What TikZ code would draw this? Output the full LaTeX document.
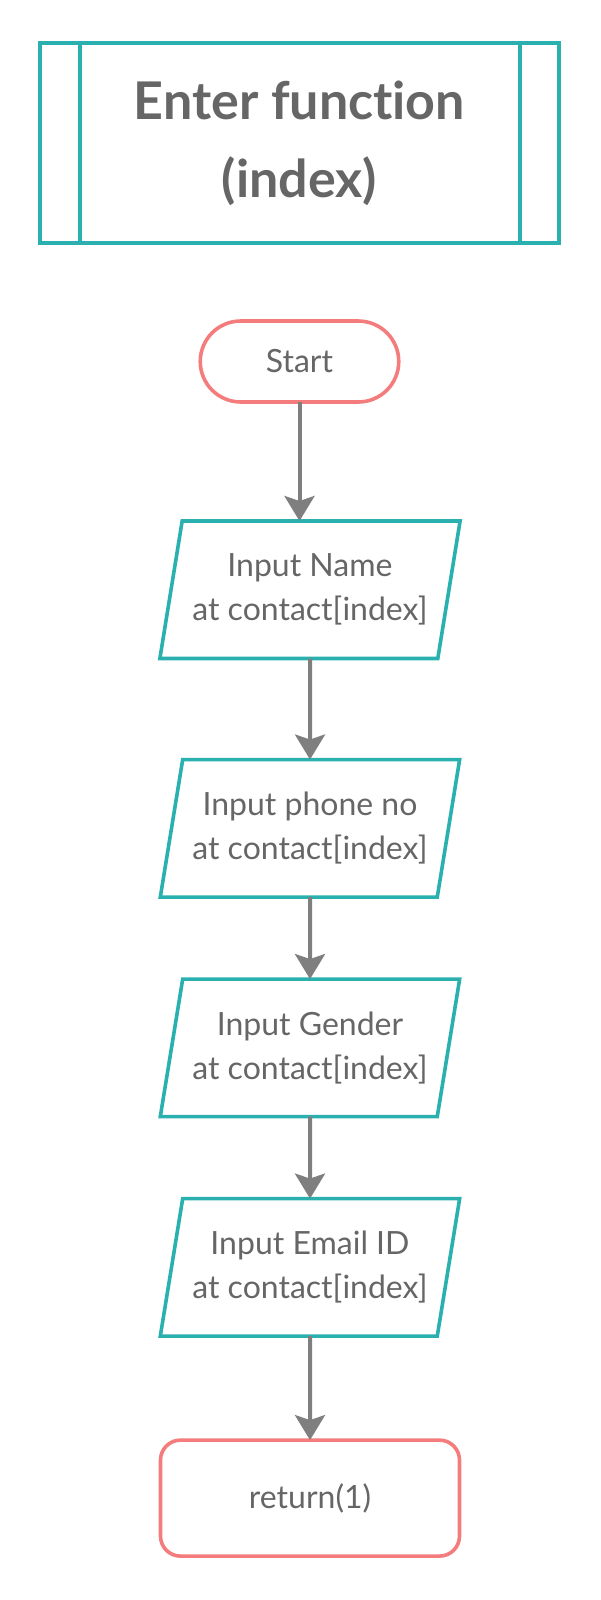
\documentclass[tikz,border=0pt]{standalone}
\usepackage{fontspec}
\setmainfont{Lato}[Ligatures=NoCommon]
\usepackage{tikz}
\usetikzlibrary{shapes.geometric, arrows.meta, positioning}
\definecolor{flowteal}{HTML}{2AB1AF}
\definecolor{flowred}{HTML}{F47C7C}
\definecolor{flowgray}{HTML}{7F7F7F}
\definecolor{flowtext}{HTML}{666666}
\tikzstyle{frame} = [draw=flowteal, line width=3.6pt, rectangle, minimum width=519.5pt, minimum height=199.5pt, align=center, font=\bfseries\fontsize{52}{78}\selectfont]
\tikzstyle{terminal} = [draw=flowred, line width=3.6pt, rectangle, rounded corners=40.5pt, minimum width=198.5pt, minimum height=81pt]
\tikzstyle{io} = [draw=flowteal, line width=3.6pt, trapezium, trapezium left angle=74, trapezium right angle=106, trapezium stretches=true, minimum width=300.5pt, minimum height=137.5pt, align=center]
\tikzstyle{retbox} = [draw=flowred, line width=3.6pt, rectangle, rounded corners=20pt, minimum width=299pt, minimum height=116pt]
\tikzstyle{line} = [draw=flowgray, line width=4pt, -{Stealth[length=25pt, width=30pt, inset=5pt]}]

\begin{document}
\begin{tikzpicture}[x=1pt, y=-1pt, every node/.style={text=flowtext, inner sep=0pt, outer sep=0pt, font=\fontsize{32}{44}\selectfont}]
  \useasboundingbox (0,0) rectangle (600,1600);
  \node[frame] (title) at (299.5,143) {Enter function\\(index)};
  \node[terminal] (start) at (299.5,361.5) {Start};
  \node[io, below=119pt of start, xshift=10.5pt] (name) {Input Name\\at contact[index]};
  \node[io, below=101pt of name] (phone) {Input phone no\\at contact[index]};
  \node[io, below=82pt of phone] (gender) {Input Gender\\at contact[index]};
  \node[io, below=82pt of gender] (email) {Input Email ID\\at contact[index]};
  \node[retbox, below=104pt of email] (ret) {return(1)};

  \draw[flowteal, line width=3.6pt] ([xshift=40.5pt]title.north west) -- ([xshift=40.5pt]title.south west);
  \draw[flowteal, line width=3.6pt] ([xshift=-39pt]title.north east) -- ([xshift=-39pt]title.south east);

  \draw[line] (start) -- (start |- name.north);
  \draw[line] (name) -- (phone);
  \draw[line] (phone) -- (gender);
  \draw[line] (gender) -- (email);
  \draw[line] (email) -- (ret);
\end{tikzpicture}
\end{document}
